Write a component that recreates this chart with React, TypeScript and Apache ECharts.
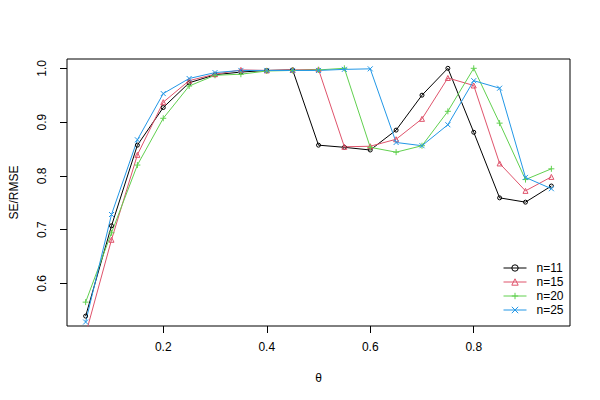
import React, { useEffect, useRef } from "react";
import * as echarts from "echarts";

const theta = [0.05, 0.1, 0.15, 0.2, 0.25, 0.3, 0.35, 0.4, 0.45, 0.5, 0.55, 0.6, 0.65, 0.7, 0.75, 0.8, 0.85, 0.9, 0.95];
const n11 = [0.539, 0.707, 0.857, 0.927, 0.973, 0.988, 0.993, 0.996, 0.997, 0.857, 0.853, 0.848, 0.885, 0.95, 1.0, 0.881, 0.759, 0.751, 0.781];
const n15 = [0.505, 0.681, 0.839, 0.937, 0.977, 0.989, 0.997, 0.996, 0.997, 0.998, 0.854, 0.855, 0.868, 0.906, 0.982, 0.968, 0.823, 0.772, 0.798];
const n20 = [0.565, 0.694, 0.82, 0.907, 0.967, 0.987, 0.989, 0.995, 0.996, 0.997, 1.0, 0.853, 0.844, 0.856, 0.92, 1.0, 0.898, 0.793, 0.813];
const n25 = [0.528, 0.728, 0.867, 0.953, 0.981, 0.992, 0.996, 0.996, 0.996, 0.996, 0.998, 0.999, 0.862, 0.856, 0.895, 0.977, 0.963, 0.797, 0.776];

const seriesNames = ["n=11", "n=15", "n=20", "n=25"];
const seriesValues = [n11, n15, n20, n25];
const colors = ["#000000", "#DF536B", "#61D04F", "#2297E6"];
const symbols = [
  "path://M10,5A5,5 0 1,1 0,5A5,5 0 1,1 10,5Z",
  "path://M5,0L10,9L0,9Z",
  "path://M5,0L5,10M0,5L10,5",
  "path://M0,0L10,10M10,0L0,10",
];
const symbolSizes = [4, 5, 6, 5];

const xTicks = [0.2, 0.4, 0.6, 0.8];
const yTicks = [0.6, 0.7, 0.8, 0.9, 1.0];

const FONT = "'Liberation Sans', Arial, sans-serif";

export default function App() {
  const ref = useRef<HTMLDivElement>(null);
  useEffect(() => {
    if (!ref.current) return;
    const chart = echarts.init(ref.current, undefined, { renderer: "svg" });
    chart.setOption({
      animation: false,
      backgroundColor: "#ffffff",
      textStyle: { fontFamily: FONT },
      grid: {
        left: 59,
        top: 59,
        width: 511,
        height: 267,
        show: true,
        borderColor: "#000",
        borderWidth: 1,
        backgroundColor: "transparent",
      },
      xAxis: {
        type: "value",
        min: 0.014,
        max: 0.986,
        name: "θ",
        nameLocation: "middle",
        nameGap: 46,
        nameTextStyle: { fontFamily: FONT, fontSize: 12, color: "#000" },
        axisLine: { show: false },
        splitLine: { show: false },
        axisTick: {
          show: true,
          inside: false,
          length: 7,
          lineStyle: { color: "#000" },
          customValues: xTicks,
        },
        axisLabel: {
          show: true,
          margin: 15,
          fontFamily: FONT,
          fontSize: 12,
          color: "#000",
          customValues: xTicks,
          formatter: (v: number) => v.toFixed(1),
        },
      },
      yAxis: {
        type: "value",
        min: 0.5206,
        max: 1.0173,
        name: "SE/RMSE",
        nameLocation: "middle",
        nameGap: 47,
        nameRotate: 90,
        nameTextStyle: { fontFamily: FONT, fontSize: 12, color: "#000" },
        axisLine: { show: false },
        splitLine: { show: false },
        axisTick: {
          show: true,
          inside: false,
          length: 7,
          lineStyle: { color: "#000" },
          customValues: yTicks,
        },
        axisLabel: {
          show: true,
          rotate: 90,
          margin: 19,
          fontFamily: FONT,
          fontSize: 12,
          color: "#000",
          customValues: yTicks,
          formatter: (v: number) => v.toFixed(1),
        },
      },
      legend: {
        orient: "vertical",
        left: 503,
        top: 262,
        itemWidth: 23,
        itemHeight: 8,
        itemGap: 2,
        padding: 0,
        itemStyle: { borderWidth: 1 },
        lineStyle: { width: 1 },
        textStyle: { fontFamily: FONT, fontSize: 12, color: "#000", padding: [0, 0, 0, 5] },
        data: seriesNames,
      },
      series: seriesNames.map((name, i) => ({
        name,
        type: "line",
        data: theta.map((t, j) => [t, seriesValues[i][j]]),
        symbol: symbols[i],
        symbolSize: symbolSizes[i],
        showAllSymbol: true,
        clip: true,
        lineStyle: { color: colors[i], width: 1 },
        itemStyle: { color: "rgba(0,0,0,0)", borderColor: colors[i], borderWidth: 1 },
        emphasis: { disabled: true },
      })),
    });
    return () => chart.dispose();
  }, []);
  return <div ref={ref} style={{ position: "fixed", left: 0, top: 0, width: 600, height: 400 }} />;
}
